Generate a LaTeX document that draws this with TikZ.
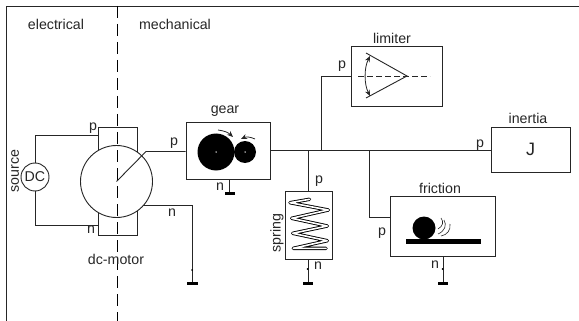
\documentclass[tikz,border=0pt]{standalone}
\usepackage{fontspec}
\setmainfont{Liberation Sans}
\usetikzlibrary{arrows.meta}
\definecolor{ink}{gray}{0.15}
\tikzset{
  x=1pt,y=-1pt,
  every node/.style={font=\fontsize{14.2}{16}\selectfont,text=ink,inner sep=0pt},
  wire/.style={draw=ink,line width=0.9pt},
  blockbox/.style={draw=ink,line width=0.9pt,fill=white,rectangle,minimum width=#1},
  blockbox/.default=40pt,
  groundbar/.style={draw=black,line width=2.6pt},
  tinydot/.style={fill=black,circle,minimum size=2pt},
  mass/.style={fill=black,circle},
  whitedot/.style={fill=white,circle,minimum size=1.5pt},
  turnarrow/.style={draw=ink,line width=0.8pt,-{Stealth[length=6pt,width=5pt]}},
}
\begin{document}
\begin{tikzpicture}
\useasboundingbox (0,0) rectangle (579,321);
% frame
\coordinate (frameTL) at (6,6); \coordinate (frameBL) at (6,321); \coordinate (frameTR) at (579,6);
\draw[wire] (frameBL) -- (frameTL) -- (frameTR);
\node at (56,24) {electrical};
\node at (175,24) {mechanical};
% motor
\node[blockbox,minimum width=39pt,minimum height=108pt] (motorbox) at (117.5,181) {};
\node[draw=ink,line width=0.9pt,fill=white,circle,minimum size=72pt] (motor) at (116.5,181.5) {};
\coordinate (divT) at (117.5,6); \coordinate (divB) at (117.5,321);
\draw[draw=black,line width=1pt,dash pattern=on 12pt off 6pt] (divT) -- (divB);
% source
\node[draw=ink,line width=0.9pt,circle,minimum size=28pt,fill=white] (dc) at (35,177) {DC};
\coordinate (mp) at (98,135.7); \coordinate (mn) at (98,225);
\draw[wire] (dc.north) |- (mp);
\draw[wire] (dc.south) |- (mn);
\node[rotate=90] at (15,171) {source};
\node at (93,128) {p};
\node at (91,230) {n};
\node at (116,259) {dc-motor};
% gear
\node[blockbox,minimum width=84pt,minimum height=57pt] (gear) at (228,150.5) {};
\node at (225,111) {gear};
\coordinate (shaftbend) at (146,151.5);
\draw[wire] (motor.center) -- (shaftbend) -- (gear.west |- shaftbend);
\node at (174,143) {p};
\node[mass,minimum size=37pt] (big) at (216,152) {};
\node[mass,minimum size=22pt] (small) at (245,152) {};
\node[whitedot] at (big) {};
\node[whitedot] at (small) {};
\coordinate (a1) at (218,130); \coordinate (a2) at (233,137);
\coordinate (a3) at (255,139); \coordinate (a4) at (241,139);
\draw[turnarrow] (a1) to[bend left=18] (a2);
\draw[turnarrow] (a3) to[bend right=25] (a4);
\coordinate (gearG) at (229.5,193);
\draw[wire] (gearG |- gear.south) -- (gearG);
\draw[groundbar] (225,193.5) -- (235,193.5);
\node at (220,187) {n};
% motor n
\coordinate (mnb) at (143,205); \coordinate (mnG) at (192,283);
\draw[wire] (mnb) -| (mnG);
\draw[groundbar] (187,283.5) -- (198,283.5);
\node[tinydot] at (192,270) {};
\node at (172,213) {n};
% inertia
\node[blockbox,minimum width=79pt,minimum height=45pt,font=\fontsize{18}{20}\selectfont] (inertia) at (530.5,149.5) {J};
\node at (528,118) {inertia};
\draw[wire] (gear.east |- 0,150.7) -- (inertia.west |- 0,150.7);
\node at (480,145) {p};
% limiter
\node[blockbox,minimum width=91pt,minimum height=60pt] (limiter) at (396.5,76) {};
\node at (392,38) {limiter};
\coordinate (limJ) at (321,150.7);
\draw[wire] (limJ) |- (limiter.west);
\node at (342,66) {p};
\coordinate (apex) at (407,76); \coordinate (lt) at (366,53); \coordinate (lb) at (366,98);
\coordinate (lda) at (358,76); \coordinate (ldb) at (430,76);
\draw[wire] (lt) -- (apex) -- (lb);
\draw[draw=ink,line width=0.8pt,dash pattern=on 6pt off 3pt] (lda) -- (ldb);
\coordinate (ra) at (370,56); \coordinate (rb) at (370,96);
\draw[draw=ink,line width=0.8pt,{Stealth[length=6pt,width=5pt]}-{Stealth[length=6pt,width=5pt]}] (ra) .. controls (364,68) and (364,84) .. (rb);
% spring
\node[blockbox,minimum width=47pt,minimum height=68pt] (spring) at (308.5,225) {};
\coordinate (sprJ) at (308,150.7);
\draw[wire] (sprJ) -- (sprJ |- spring.north);
\node at (319,181) {p};
\node[rotate=90] at (277,233) {spring};
\def\sprpath{(309.5,199.3) -- (290,202.7) -- (328.3,210) -- (291.7,218.3) -- (327.3,226) -- (292.7,233.3) -- (327.3,240.7) -- (293.3,248.3) -- (326,248.3)}
\draw[draw=black,line width=3.4pt,line join=round,line cap=round] \sprpath;
\draw[draw=white,line width=1.6pt,line join=round,line cap=round] \sprpath;
\coordinate (sprG) at (308,283);
\draw[wire] (spring.south -| sprG) -- (sprG);
\draw[groundbar] (303,283.5) -- (313,283.5);
\node[tinydot] at (307.5,269) {};
\node at (318,266) {n};
% friction
\node[blockbox,minimum width=105pt,minimum height=60pt] (friction) at (442.5,226) {};
\node at (440,188) {friction};
\coordinate (friJ) at (369,150.7); \coordinate (frip) at (390,217);
\draw[wire] (friJ) |- (frip);
\node at (382,233) {p};
\node[mass,minimum size=23pt] (ball) at (424,228) {};
\coordinate (bl) at (406,241.5); \coordinate (br) at (481,241.5);
\draw[draw=black,line width=5pt] (bl) -- (br);
\draw[draw=ink,line width=0.6pt] (441,218) .. controls (444,222) and (443,226) .. (438,229);
\draw[draw=ink,line width=0.6pt] (444,220) .. controls (447,225) and (445,231) .. (438,234);
\draw[draw=ink,line width=0.6pt] (450,224) .. controls (451,230) and (447,235) .. (441,236);
\coordinate (friG) at (443,283);
\draw[wire] (friction.south -| friG) -- (friG);
\draw[groundbar] (438,283.5) -- (448,283.5);
\node[tinydot] at (442.5,269) {};
\node at (435,265) {n};
\end{tikzpicture}
\end{document}
